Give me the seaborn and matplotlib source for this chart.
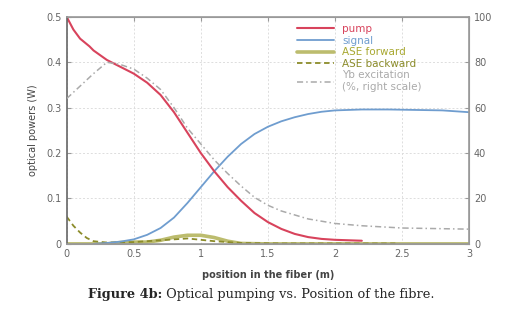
import numpy as np
import pandas as pd
import matplotlib.pyplot as plt
import seaborn as sns

# ---- data ----
pump_x = [0, 0.05, 0.1, 0.17, 0.2, 0.3, 0.4, 0.5, 0.6, 0.7, 0.8, 0.9, 1.0, 1.1, 1.2,
          1.3, 1.4, 1.5, 1.6, 1.7, 1.8, 1.9, 2.0, 2.2]
pump_y = [0.5, 0.472, 0.452, 0.435, 0.426, 0.405, 0.39, 0.375, 0.355, 0.328, 0.29, 0.245,
          0.2, 0.16, 0.125, 0.095, 0.068, 0.048, 0.033, 0.022, 0.015, 0.011, 0.009, 0.007]

signal_x = [0.2, 0.3, 0.4, 0.5, 0.6, 0.7, 0.8, 0.9, 1.0, 1.1, 1.2, 1.3, 1.4, 1.5, 1.6,
            1.7, 1.8, 1.9, 2.0, 2.2, 2.4, 2.6, 2.8, 3.0]
signal_y = [0.0, 0.002, 0.005, 0.01, 0.02, 0.035, 0.058, 0.09, 0.125, 0.16, 0.192, 0.22,
            0.242, 0.258, 0.27, 0.279, 0.286, 0.291, 0.294, 0.296, 0.296, 0.295, 0.294, 0.29]

ase_fw_x = [0, 0.3, 0.4, 0.5, 0.6, 0.7, 0.8, 0.9, 1.0, 1.1, 1.2, 1.3, 1.5, 2.0, 3.0]
ase_fw_y = [0.0, 0.0, 0.003, 0.004, 0.004, 0.008, 0.015, 0.019, 0.019, 0.014, 0.006, 0.001, 0.0, 0.0, 0.0]

ase_bw_x = [0, 0.05, 0.1, 0.15, 0.2, 0.3, 0.5, 0.7, 0.9, 1.1, 1.3, 1.6, 2.0, 2.45]
ase_bw_y = [0.06, 0.04, 0.025, 0.013, 0.006, 0.003, 0.004, 0.008, 0.012, 0.006, 0.002, 0.001, 0.001, 0.001]

yb_x = [0, 0.1, 0.2, 0.3, 0.4, 0.5, 0.6, 0.7, 0.8, 0.9, 1.0, 1.1, 1.2, 1.3, 1.4,
        1.5, 1.6, 1.8, 2.0, 2.2, 2.5, 3.0]
yb_y = [64, 69.5, 75, 80, 79, 77, 73, 68, 60, 51, 44, 37, 31, 25.5, 20.5,
        17, 14.5, 11, 9, 8, 7, 6.5]

x_ticks = [0, 0.5, 1, 1.5, 2, 2.5, 3]
x_ticklabels = ["0", "0.5", "1", "1.5", "2", "2.5", "3"]
y_ticks = [0, 0.1, 0.2, 0.3, 0.4, 0.5]
y_ticklabels = ["0", "0.1", "0.2", "0.3", "0.4", "0.5"]
y2_ticks = [0, 20, 40, 60, 80, 100]

c_pump = "#d8435c"
c_signal = "#6f9dcf"
c_asefw = "#bcbc6e"
c_asebw = "#8c8c2a"
c_yb = "#aaaaaa"
c_tick = "#666666"

sns.set_style("white")
plt.rcParams["font.family"] = ["DejaVu Sans"]

fig = plt.figure(figsize=(5.23, 3.18), dpi=100)
ax = fig.add_axes([0.1275, 0.233, 0.7695, 0.714])
ax2 = ax.twinx()

sns.lineplot(x=ase_fw_x, y=ase_fw_y, ax=ax, color=c_asefw, lw=2.6, label="ASE forward")
sns.lineplot(x=ase_bw_x, y=ase_bw_y, ax=ax, color=c_asebw, lw=1.3, ls=(0, (3, 2)), label="ASE backward")
sns.lineplot(x=signal_x, y=signal_y, ax=ax, color=c_signal, lw=1.3, label="signal")
sns.lineplot(x=pump_x, y=pump_y, ax=ax, color=c_pump, lw=1.5, label="pump")
sns.lineplot(x=yb_x, y=yb_y, ax=ax2, color=c_yb, lw=1.1, ls=(0, (4, 2, 1, 2)),
             label="Yb excitation\n(%, right scale)")

ax.set_xlim(0, 3)
ax.set_ylim(0, 0.5)
ax2.set_ylim(0, 100)
ax.set_xticks(x_ticks)
ax.set_xticklabels(x_ticklabels)
ax.set_yticks(y_ticks)
ax.set_yticklabels(y_ticklabels)
ax2.set_yticks(y2_ticks)

ax.grid(True, ls=(0, (2, 2)), color="#dddddd", lw=0.7)
ax.tick_params(axis="both", direction="in", labelsize=7, labelcolor=c_tick, length=3,
               color="#999999", top=True)
ax2.tick_params(axis="y", direction="in", labelsize=7, labelcolor=c_tick, length=3, color="#999999")

ax.spines["left"].set_color("#666666")
for sp in ["top", "right", "bottom"]:
    ax.spines[sp].set_color("#999999")
    ax2.spines[sp].set_color("#999999")
ax2.spines["left"].set_visible(False)
for sp in ax.spines.values():
    sp.set_linewidth(1.2)

ax.set_xlabel("position in the fiber (m)", fontsize=7, color="#444444", fontweight="bold", labelpad=8)
ax.set_ylabel("optical powers (W)", fontsize=7, color="#444444", labelpad=6)

# legend with all lines, in the reference order
h1, l1 = ax.get_legend_handles_labels()
h2, l2 = ax2.get_legend_handles_labels()
ax2.get_legend().remove()
ax.get_legend().remove()
hmap = dict(zip(l1 + l2, h1 + h2))
order = ["pump", "signal", "ASE forward", "ASE backward", "Yb excitation\n(%, right scale)"]
leg = ax2.legend([hmap[k] for k in order], order, loc="upper left", bbox_to_anchor=(0.555, 1.0),
                 frameon=False, fontsize=7.5, handlelength=3.5, labelspacing=0.15,
                 borderaxespad=0.3)
for txt, col in zip(leg.get_texts(), [c_pump, c_signal, "#a8a830", "#8c8c2a", c_yb]):
    txt.set_color(col)

# caption: bold part, then plain part right after it
cap1 = fig.text(0.168, 0.075, "Figure 4b:", ha="left", va="center", fontsize=9.3,
                family="DejaVu Serif", fontweight="bold")
ax.annotate(" Optical pumping vs. Position of the fibre.", xy=(1, 0.5), xycoords=cap1,
            ha="left", va="center", fontsize=9.3, family="DejaVu Serif", annotation_clip=False)

fig.savefig("out.png", dpi=100)
